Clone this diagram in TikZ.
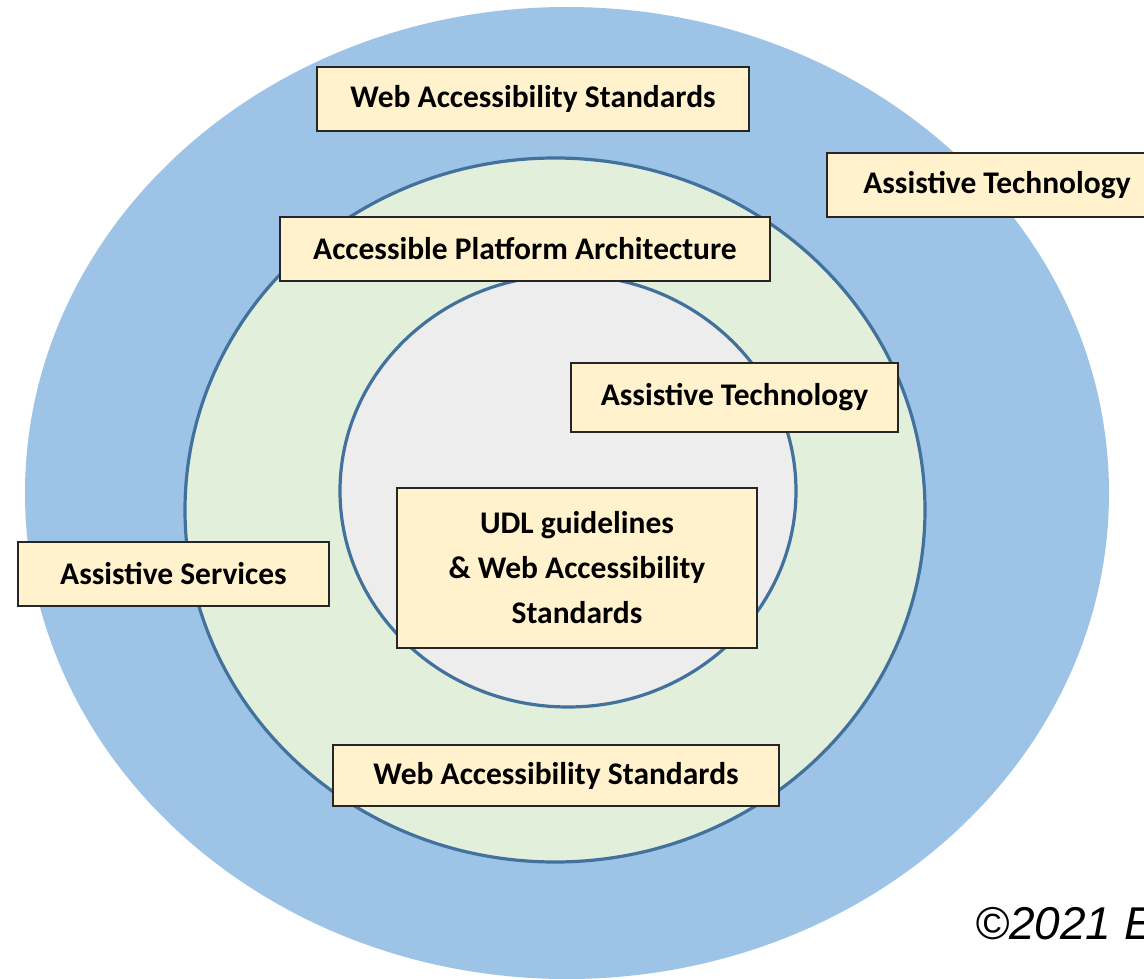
\documentclass[tikz,border=0pt]{standalone}
\usepackage{fontspec}
\setmainfont{Carlito}
\newfontfamily\arialfont{Liberation Sans}
\definecolor{outerblue}{HTML}{9DC3E6}
\definecolor{midgreen}{HTML}{E2EFDA}
\definecolor{innergray}{HTML}{EDEDED}
\definecolor{ringline}{HTML}{41719C}
\definecolor{boxfill}{HTML}{FFF2CC}
\definecolor{boxline}{HTML}{262626}
\begin{document}
\begin{tikzpicture}[x=1pt,y=-1pt,
  labelbox/.style={draw=boxline, line width=2pt, fill=boxfill, font=\fontsize{31.5}{45}\selectfont\bfseries, align=center, inner sep=0pt, anchor=north west},
  ring/.style={draw=ringline, line width=3.2pt}]
\useasboundingbox (0,0) rectangle (1144,979);
\begin{scope}
\clip (0,0) rectangle (1144,979);
\fill[outerblue] (567,493) ellipse [x radius=542, y radius=486];
\draw[ring, fill=midgreen] (555,510) ellipse [x radius=370, y radius=352];
\draw[ring, fill=innergray] (568,491) ellipse [x radius=228, y radius=216];
\node[labelbox, minimum width=432pt, minimum height=64pt] (was1) at (316,66) {Web Accessibility Standards};
\node[labelbox, minimum width=340pt, minimum height=64pt] (at1) at (826,152) {Assistive Technology};
\node[labelbox, minimum width=490pt, minimum height=64pt] (apa) at (279,216) {Accessible Platform Architecture};
\node[labelbox, minimum width=327pt, minimum height=69pt] (at2) at (570,362) {Assistive Technology};
\node[labelbox, minimum width=360pt, minimum height=160pt] (udl) at (396,487) {UDL guidelines\\ \& Web Accessibility\\ Standards};
\node[labelbox, minimum width=311pt, minimum height=64pt] (as) at (17,541) {Assistive Services};
\node[labelbox, minimum width=446pt, minimum height=61pt] (was2) at (332,744) {Web Accessibility Standards};
\node[anchor=base west, inner sep=0pt, font=\arialfont\itshape\fontsize{46}{50}\selectfont] (copy) at (975,939) {©2021 E};
\end{scope}
\end{tikzpicture}
\end{document}
